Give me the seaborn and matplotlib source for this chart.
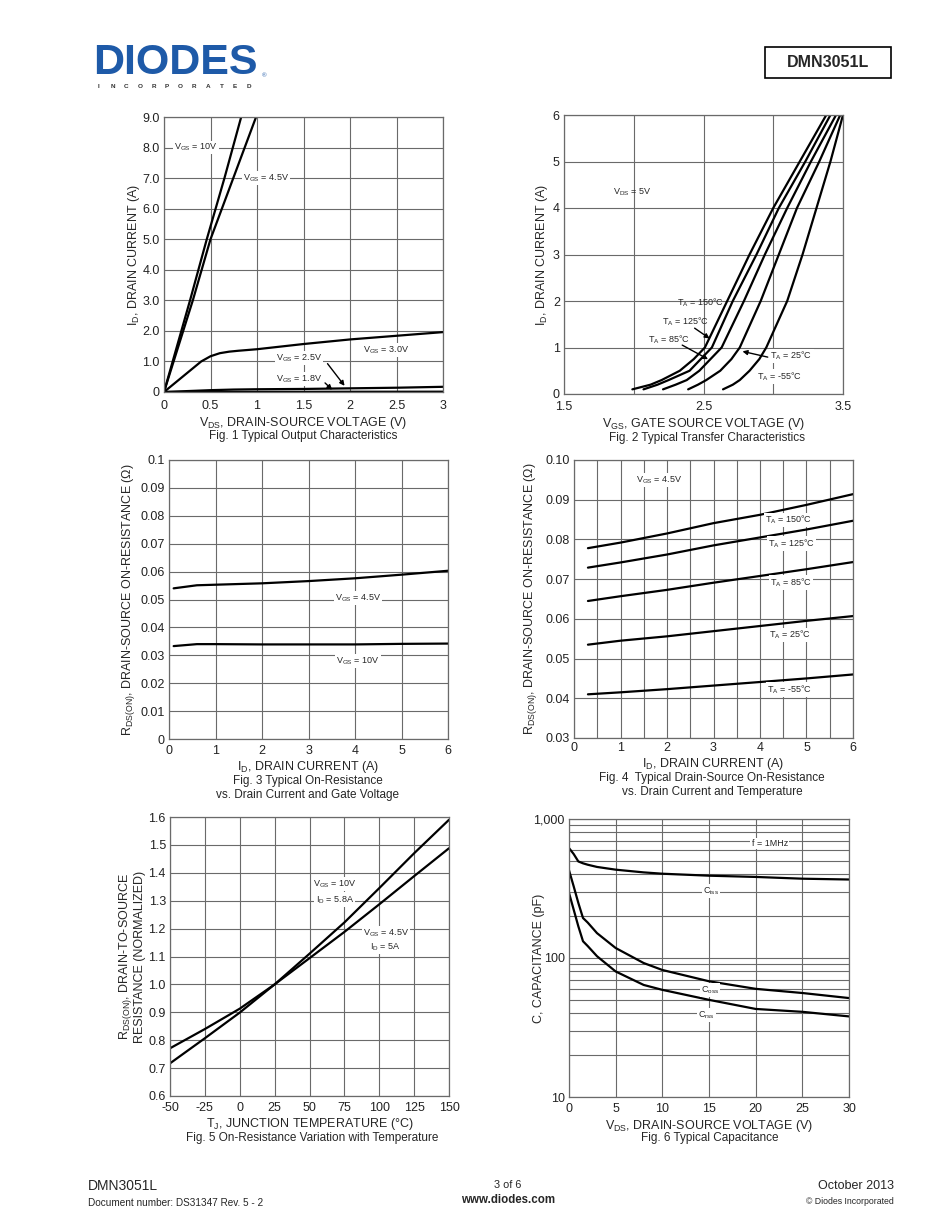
import matplotlib
matplotlib.use("Agg")
import matplotlib.pyplot as plt
import seaborn as sns
import numpy as np
import pandas as pd
from matplotlib.patches import Rectangle

sns.set_theme(style="white")
plt.rcParams['font.family'] = ['Liberation Sans', 'DejaVu Sans']
plt.rcParams['mathtext.fontset'] = 'custom'
plt.rcParams['mathtext.rm'] = 'Liberation Sans'
plt.rcParams['mathtext.it'] = 'Liberation Sans'
plt.rcParams['axes.unicode_minus'] = False

# ---------------- data ----------------
# Fig 1 output characteristics
f1_v10 = [0, 0.28, 0.46, 0.65, 0.83]
f1_i10 = [0, 3.0, 5.0, 7.0, 9.0]
f1_v45 = [0, 0.31, 0.50, 0.745, 0.99]
f1_i45 = [0, 3.0, 5.0, 7.0, 9.0]
f1_v30 = [0, 0.1, 0.2, 0.3, 0.4, 0.5, 0.6, 0.7, 0.8, 1.0, 1.5, 2.0, 2.5, 3.0]
f1_i30 = [0, 0.25, 0.5, 0.75, 1.0, 1.17, 1.27, 1.32, 1.35, 1.4, 1.57, 1.72, 1.84, 1.96]
f1_v25 = [0, 0.25, 0.5, 0.75, 1, 1.5, 2, 2.5, 3]
f1_i25 = [0, 0.03, 0.06, 0.08, 0.09, 0.10, 0.12, 0.14, 0.17]
f1_v18 = [0, 1, 2, 3]
f1_i18 = [0, 0.005, 0.008, 0.01]

# Fig 2 transfer characteristics (VGS, ID) per temperature
f2_id = [0.1, 0.2, 0.3, 0.5, 0.75, 1.0, 2.0, 3.0, 4.0, 5.0, 6.0]
f2_v150 = [1.99, 2.12, 2.20, 2.33, 2.43, 2.51, 2.67, 2.83, 3.00, 3.19, 3.38]
f2_v125 = [2.07, 2.17, 2.25, 2.40, 2.48, 2.56, 2.71, 2.88, 3.04, 3.23, 3.41]
f2_v85 = [2.21, 2.30, 2.38, 2.47, 2.55, 2.63, 2.79, 2.94, 3.10, 3.27, 3.45]
f2_v25 = [2.39, 2.46, 2.52, 2.62, 2.70, 2.76, 2.91, 3.04, 3.17, 3.33, 3.48]
f2_vm55 = [2.64, 2.71, 2.76, 2.83, 2.90, 2.95, 3.10, 3.21, 3.31, 3.41, 3.50]

# Fig 3 on-resistance vs drain current and gate voltage
f3_id = [0.1, 0.6, 1, 2, 3, 4, 5, 6]
f3_r45 = [0.0540, 0.0551, 0.0553, 0.0558, 0.0566, 0.0576, 0.0589, 0.0603]
f3_r10 = [0.0333, 0.0340, 0.0340, 0.0339, 0.0339, 0.0339, 0.0341, 0.0342]

# Fig 4 on-resistance vs drain current and temperature
f4_id = [0.3, 1, 2, 3, 4, 5, 6]
f4_r150 = [0.0778, 0.0792, 0.0815, 0.0841, 0.0862, 0.0887, 0.0914]
f4_r125 = [0.0729, 0.0742, 0.0762, 0.0785, 0.0805, 0.0825, 0.0847]
f4_r85 = [0.0645, 0.0657, 0.0673, 0.0691, 0.0708, 0.0725, 0.0743]
f4_r25 = [0.0535, 0.0545, 0.0556, 0.0569, 0.0582, 0.0595, 0.0607]
f4_rm55 = [0.0410, 0.0415, 0.0423, 0.0432, 0.0441, 0.0450, 0.0460]

# Fig 5 normalized on-resistance vs temperature
f5_t = [-50, -25, 0, 25, 50, 75, 100, 125, 150]
f5_r10 = [0.717, 0.807, 0.899, 1.0, 1.11, 1.222, 1.345, 1.47, 1.59]
f5_r45 = [0.771, 0.840, 0.913, 1.0, 1.094, 1.188, 1.287, 1.388, 1.488]

# Fig 6 capacitance
f6_v = [0, 0.5, 1, 1.5, 2, 3, 5, 8, 10, 15, 20, 25, 30]
f6_ciss = [618, 560, 495, 480, 469, 452, 432, 413, 404, 391, 383, 372, 367]
f6_coss = [428, 328, 249, 194, 180, 151, 118, 92, 82, 68, 60, 56, 51.5]
f6_crss = [294, 223, 169, 132, 122, 103, 80, 64, 59, 50, 43, 41, 38]

# ---------------- figure ----------------
W, H = 950, 1230
fig = plt.figure(figsize=(9.5, 12.3), dpi=100)
fig.patch.set_facecolor('white')

GRID = '#6a6a6a'
TICK_FS = 9
LBL_FS = 9
CAP_FS = 8.5
ANN_FS = 6.5


def make_ax(l, r, t, b, xpad=4):
    ax = fig.add_axes([l / W, 1 - b / H, (r - l) / W, (b - t) / H])
    ax.set_facecolor('white')
    for s in ax.spines.values():
        s.set_color(GRID)
        s.set_linewidth(0.9)
    ax.tick_params(length=0, labelsize=TICK_FS, colors='#222222', pad=3)
    ax.tick_params(axis='x', pad=xpad)
    ax.grid(True, color=GRID, lw=0.8)
    ax.set_axisbelow(True)
    ax._px = (l, r, t, b)
    return ax


def place_labels(ax, xc_y, yl_x):
    """xc_y: pixel y of x-label centre; yl_x: pixel x of y-label centre."""
    l, r, t, b = ax._px
    ax.xaxis.set_label_coords(0.5, (b - (xc_y - 4)) / (b - t))
    ax.yaxis.set_label_coords(((yl_x + 10) - l) / (r - l), 0.5)


def curve(ax, x, y):
    sns.lineplot(x=x, y=y, ax=ax, color='black', lw=1.6, estimator=None,
                 sort=False, legend=False)


def sub(a, b):
    return r'%s$_{\mathregular{%s}}$' % (a, b)


bb = dict(fc='white', ec='none', pad=0.8)
ap = dict(arrowstyle='-|>', color='black', lw=1.0, mutation_scale=7)

# ---- Fig 1 ----
ax1 = make_ax(164, 443, 117, 392, xpad=6)
for x, y in [(f1_v10, f1_i10), (f1_v45, f1_i45), (f1_v30, f1_i30),
             (f1_v25, f1_i25), (f1_v18, f1_i18)]:
    curve(ax1, x, y)
ax1.set_xlim(0, 3)
ax1.set_ylim(0, 9)
ax1.set_xticks(np.arange(0, 3.01, 0.5))
ax1.set_xticklabels(['0', '0.5', '1', '1.5', '2', '2.5', '3'])
ax1.set_yticks(np.arange(0, 9.01, 1))
ax1.set_yticklabels(['0'] + ['%.1f' % v for v in range(1, 10)])
ax1.set_xlabel(sub('V', 'DS') + ', DRAIN-SOURCE VOLTAGE (V)', fontsize=LBL_FS)
ax1.set_ylabel(sub('I', 'D') + ', DRAIN CURRENT (A)', fontsize=LBL_FS)
place_labels(ax1, 419, 132)
ax1.text(0.11, 8.0, sub('V', 'GS') + ' = 10V', fontsize=ANN_FS, va='center', bbox=bb)
ax1.text(0.85, 7.0, sub('V', 'GS') + ' = 4.5V', fontsize=ANN_FS, va='center', bbox=bb)
ax1.text(2.14, 1.37, sub('V', 'GS') + ' = 3.0V', fontsize=ANN_FS, va='center', bbox=bb)
ax1.text(1.2, 1.12, sub('V', 'GS') + ' = 2.5V', fontsize=ANN_FS, va='center', bbox=bb)
ax1.text(1.2, 0.43, sub('V', 'GS') + ' = 1.8V', fontsize=ANN_FS, va='center', bbox=bb)
ax1.annotate('', xy=(1.96, 0.13), xytext=(1.74, 1.0), arrowprops=ap)
ax1.annotate('', xy=(1.83, 0.01), xytext=(1.71, 0.36), arrowprops=ap)
fig.text(303.5 / W, 1 - 436 / H, 'Fig. 1 Typical Output Characteristics',
         ha='center', va='center', fontsize=CAP_FS)

# ---- Fig 2 ----
ax2 = make_ax(564, 843, 115, 394, xpad=5)
for v in [f2_v150, f2_v125, f2_v85, f2_v25, f2_vm55]:
    curve(ax2, v, f2_id)
ax2.set_xlim(1.5, 3.5)
ax2.set_ylim(0, 6)
ax2.set_xticks([1.5, 2.0, 2.5, 3.0, 3.5])
ax2.set_xticklabels(['1.5', '', '2.5', '', '3.5'])
ax2.set_yticks(range(0, 7))
ax2.set_xlabel(sub('V', 'GS') + ', GATE SOURCE VOLTAGE (V)', fontsize=LBL_FS)
ax2.set_ylabel(sub('I', 'D') + ', DRAIN CURRENT (A)', fontsize=LBL_FS)
place_labels(ax2, 420, 540)
ax2.text(1.85, 4.34, sub('V', 'DS') + ' = 5V', fontsize=ANN_FS, va='center')
ax2.text(2.31, 1.96, sub('T', 'A') + ' = 150°C', fontsize=ANN_FS, va='center')
ax2.text(2.20, 1.56, sub('T', 'A') + ' = 125°C', fontsize=ANN_FS, va='center')
ax2.text(2.10, 1.17, sub('T', 'A') + ' = 85°C', fontsize=ANN_FS, va='center')
ax2.text(2.98, 0.82, sub('T', 'A') + ' = 25°C', fontsize=ANN_FS, va='center', bbox=bb)
ax2.text(2.88, 0.38, sub('T', 'A') + ' = -55°C', fontsize=ANN_FS, va='center', bbox=bb)
ax2.annotate('', xy=(2.56, 1.16), xytext=(2.42, 1.45), arrowprops=ap)
ax2.annotate('', xy=(2.55, 0.72), xytext=(2.33, 1.08), arrowprops=ap)
ax2.annotate('', xy=(2.76, 0.93), xytext=(2.98, 0.78), arrowprops=ap)
fig.text(707 / W, 1 - 438 / H, 'Fig. 2 Typical Transfer Characteristics',
         ha='center', va='center', fontsize=CAP_FS)

# ---- Fig 3 ----
ax3 = make_ax(169, 448, 460, 739, xpad=4)
curve(ax3, f3_id, f3_r45)
curve(ax3, f3_id, f3_r10)
ax3.set_xlim(0, 6)
ax3.set_ylim(0, 0.1)
ax3.set_xticks(range(0, 7))
ax3.set_yticks(np.arange(0, 0.1001, 0.01))
ax3.set_yticklabels(['0', '0.01', '0.02', '0.03', '0.04', '0.05', '0.06',
                     '0.07', '0.08', '0.09', '0.1'])
ax3.set_xlabel(sub('I', 'D') + ', DRAIN CURRENT (A)', fontsize=LBL_FS)
ax3.set_ylabel(sub('R', 'DS(ON)') + ', DRAIN-SOURCE ON-RESISTANCE (Ω)', fontsize=LBL_FS)
place_labels(ax3, 763, 127)
ax3.text(4.06, 0.0505, sub('V', 'GS') + ' = 4.5V', fontsize=ANN_FS, ha='center', va='center', bbox=bb)
ax3.text(4.06, 0.0280, sub('V', 'GS') + ' = 10V', fontsize=ANN_FS, ha='center', va='center', bbox=bb)
fig.text(308 / W, 1 - 781 / H, 'Fig. 3 Typical On-Resistance',
         ha='center', va='center', fontsize=CAP_FS)
fig.text(308 / W, 1 - 795 / H, 'vs. Drain Current and Gate Voltage',
         ha='center', va='center', fontsize=CAP_FS)

# ---- Fig 4 ----
ax4 = make_ax(574, 853, 460, 738, xpad=3)
for r in [f4_r150, f4_r125, f4_r85, f4_r25, f4_rm55]:
    curve(ax4, f4_id, r)
ax4.set_xlim(0, 6)
ax4.set_ylim(0.03, 0.10)
ax4.set_xticks(np.arange(0, 6.01, 0.5))
ax4.set_xticklabels([str(int(v)) if v == int(v) else '' for v in np.arange(0, 6.01, 0.5)])
ax4.set_yticks(np.arange(0.03, 0.1001, 0.01))
ax4.set_yticklabels(['0.03', '0.04', '0.05', '0.06', '0.07', '0.08', '0.09', '0.10'])
ax4.set_xlabel(sub('I', 'D') + ', DRAIN CURRENT (A)', fontsize=LBL_FS)
ax4.set_ylabel(sub('R', 'DS(ON)') + ', DRAIN-SOURCE ON-RESISTANCE (Ω)', fontsize=LBL_FS)
place_labels(ax4, 760, 529)
ax4.text(1.84, 0.0950, sub('V', 'GS') + ' = 4.5V', fontsize=ANN_FS, ha='center', va='center', bbox=bb)
ax4.text(4.61, 0.0849, sub('T', 'A') + ' = 150°C', fontsize=ANN_FS, ha='center', va='center', bbox=bb)
ax4.text(4.67, 0.0790, sub('T', 'A') + ' = 125°C', fontsize=ANN_FS, ha='center', va='center', bbox=bb)
ax4.text(4.67, 0.0691, sub('T', 'A') + ' = 85°C', fontsize=ANN_FS, ha='center', va='center', bbox=bb)
ax4.text(4.64, 0.0559, sub('T', 'A') + ' = 25°C', fontsize=ANN_FS, ha='center', va='center', bbox=bb)
ax4.text(4.64, 0.0422, sub('T', 'A') + ' = -55°C', fontsize=ANN_FS, ha='center', va='center', bbox=bb)
fig.text(712 / W, 1 - 778 / H, 'Fig. 4  Typical Drain-Source On-Resistance',
         ha='center', va='center', fontsize=CAP_FS)
fig.text(712 / W, 1 - 792 / H, 'vs. Drain Current and Temperature',
         ha='center', va='center', fontsize=CAP_FS)

# ---- Fig 5 ----
ax5 = make_ax(170, 449, 817, 1096, xpad=4)
curve(ax5, f5_t, f5_r10)
curve(ax5, f5_t, f5_r45)
ax5.set_xlim(-50, 150)
ax5.set_ylim(0.6, 1.6)
ax5.set_xticks(range(-50, 151, 25))
ax5.set_yticks(np.arange(0.6, 1.601, 0.1))
ax5.set_yticklabels(['%.1f' % v for v in np.arange(0.6, 1.601, 0.1)])
ax5.set_xlabel(sub('T', 'J') + ', JUNCTION TEMPERATURE (°C)', fontsize=LBL_FS)
ax5.set_ylabel(sub('R', 'DS(ON)') + ', DRAIN-TO-SOURCE\nRESISTANCE (NORMALIZED)',
               fontsize=LBL_FS, linespacing=1.0)
place_labels(ax5, 1120, 136)
ax5.text(68, 1.360, sub('V', 'GS') + ' = 10V', fontsize=ANN_FS, ha='center', va='center', bbox=bb)
ax5.text(68, 1.305, sub('I', 'D') + ' = 5.8A', fontsize=ANN_FS, ha='center', va='center', bbox=bb)
ax5.text(105, 1.184, sub('V', 'GS') + ' = 4.5V', fontsize=ANN_FS, ha='center', va='center', bbox=bb)
ax5.text(104, 1.136, sub('I', 'D') + ' = 5A', fontsize=ANN_FS, ha='center', va='center', bbox=bb)
fig.text(312 / W, 1 - 1138 / H, 'Fig. 5 On-Resistance Variation with Temperature',
         ha='center', va='center', fontsize=CAP_FS)

# ---- Fig 6 ----
ax6 = make_ax(569, 849, 819, 1097, xpad=4)
ax6.set_yscale('log')
curve(ax6, f6_v, f6_ciss)
curve(ax6, f6_v, f6_coss)
curve(ax6, f6_v, f6_crss)
ax6.set_xlim(0, 30)
ax6.set_ylim(10, 1000)
ax6.set_xticks(range(0, 31, 5))
ax6.set_yticks([10, 100, 1000])
ax6.set_yticklabels(['10', '100', '1,000'])
ax6.yaxis.set_minor_locator(matplotlib.ticker.LogLocator(base=10, subs=np.arange(2, 10)))
ax6.yaxis.set_minor_formatter(matplotlib.ticker.NullFormatter())
ax6.tick_params(which='minor', length=0)
ax6.grid(True, which='minor', axis='y', color=GRID, lw=0.8)
ax6.set_xlabel(sub('V', 'DS') + ', DRAIN-SOURCE VOLTAGE (V)', fontsize=LBL_FS)
ax6.set_ylabel('C, CAPACITANCE (pF)', fontsize=LBL_FS)
place_labels(ax6, 1122, 535)
ax6.text(21.5, 671, 'f = 1MHz', fontsize=ANN_FS, ha='center', va='center', bbox=bb)
ax6.text(15.25, 302, sub('C', 'iss'), fontsize=ANN_FS, ha='center', va='center', bbox=bb)
ax6.text(15.1, 59, sub('C', 'oss'), fontsize=ANN_FS, ha='center', va='center', bbox=bb)
ax6.text(14.7, 39, sub('C', 'rss'), fontsize=ANN_FS, ha='center', va='center', bbox=bb)
fig.text(710 / W, 1 - 1138 / H, 'Fig. 6 Typical Capacitance',
         ha='center', va='center', fontsize=CAP_FS)

# ---------------- header ----------------
fig.text(93 / W, 1 - 63 / H, 'DIODES', fontsize=31, fontweight='heavy', color='#1e5aa8',
         ha='left', va='center')
for k, ch in enumerate('INCORPORATED'):
    fig.text((99 + k * 13.6) / W, 1 - 87 / H, ch, fontsize=4.6, fontweight='bold',
             color='#333333', ha='center', va='center')
fig.text(264 / W, 1 - 76 / H, '®', fontsize=4.5, color='#1e5aa8', ha='center', va='center')
fig.add_artist(Rectangle((765 / W, 1 - 78 / H), 126 / W, 31 / H, transform=fig.transFigure,
                         fill=False, ec='black', lw=1.2))
fig.text(828 / W, 1 - 62.5 / H, 'DMN3051L', fontsize=11.5, fontweight='bold',
         ha='center', va='center')

# ---------------- footer ----------------
fig.text(88 / W, 1 - 1186 / H, 'DMN3051L', fontsize=10, ha='left', va='center')
fig.text(88 / W, 1 - 1203 / H, 'Document number: DS31347 Rev. 5 - 2', fontsize=7.2,
         ha='left', va='center')
fig.text(508 / W, 1 - 1185 / H, '3 of 6', fontsize=7.8, ha='center', va='center')
fig.text(508 / W, 1 - 1200 / H, 'www.diodes.com', fontsize=8.3, fontweight='bold',
         ha='center', va='center')
fig.text(894 / W, 1 - 1186 / H, 'October 2013', fontsize=9, ha='right', va='center')
fig.text(894 / W, 1 - 1201 / H, '© Diodes Incorporated', fontsize=6.3, ha='right', va='center')

fig.savefig('out.png', dpi=100, facecolor='white')
